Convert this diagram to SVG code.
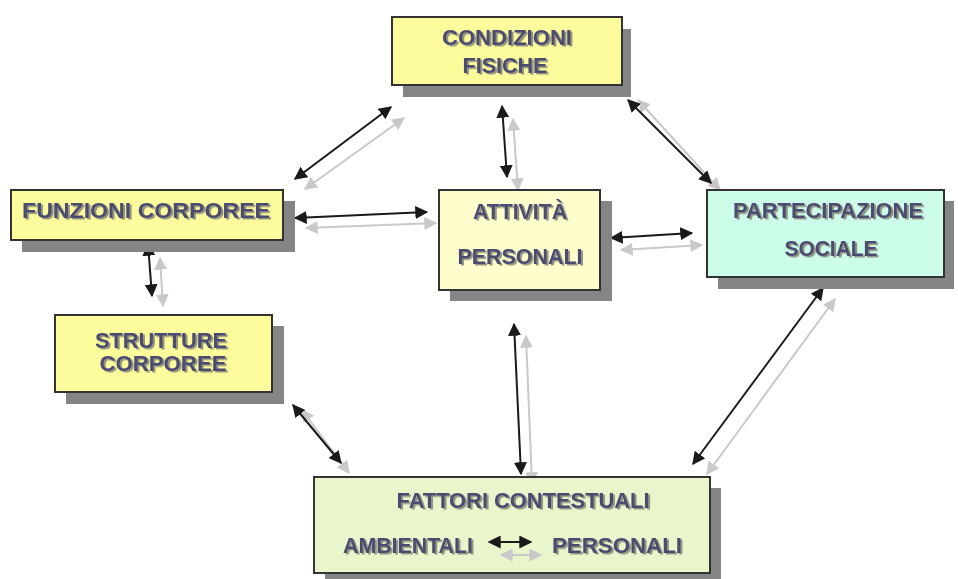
<svg xmlns="http://www.w3.org/2000/svg" width="958" height="579" viewBox="0 0 958 579">
<style>
.sh{fill:#858585}
.bx{stroke:#333;stroke-width:2}
.y{fill:#fdfc9c}
.ly{fill:#fefdcc}
.tl{fill:#ccfde9}
.gr{fill:#e9f6cb}
.t{font-family:"Liberation Sans",Arial,sans-serif;font-weight:bold;font-size:22.5px;fill:#4b4b72;filter:url(#ts)}
.k{stroke:#1a1a1a;stroke-width:2;fill:none;marker-start:url(#ak);marker-end:url(#ak)}
.g{stroke:#c9c9c9;stroke-width:2;fill:none;marker-start:url(#ag);marker-end:url(#ag)}
</style>
<defs>
<filter id="ts" x="-10%" y="-30%" width="120%" height="160%">
<feDropShadow dx="2" dy="1.5" stdDeviation="0.6" flood-color="#8a8a7a" flood-opacity="0.9"/>
</filter>
<marker id="ak" viewBox="0 0 10 10" refX="9" refY="5" markerWidth="6.5" markerHeight="6.5" markerUnits="strokeWidth" orient="auto-start-reverse">
<path d="M0,0 L10,5 L0,10 Z" fill="#1a1a1a"/>
</marker>
<marker id="ag" viewBox="0 0 10 10" refX="9" refY="5" markerWidth="6.5" markerHeight="6.5" markerUnits="strokeWidth" orient="auto-start-reverse">
<path d="M0,0 L10,5 L0,10 Z" fill="#c9c9c9"/>
</marker>
</defs>
<rect width="958" height="579" fill="#fff"/>

<g id="connectors">
<line class="g" x1="305" y1="189" x2="404" y2="118"/>
<line class="k" x1="295" y1="179" x2="391" y2="107"/>
<line class="g" x1="513" y1="119" x2="518" y2="190"/>
<line class="k" x1="502" y1="106" x2="507" y2="177"/>
<line class="g" x1="638" y1="100" x2="720" y2="190"/>
<line class="k" x1="628" y1="100" x2="711" y2="183"/>
<line class="g" x1="306" y1="228" x2="436" y2="223"/>
<line class="k" x1="295" y1="218" x2="427" y2="212"/>
<line class="g" x1="160" y1="258" x2="163" y2="306"/>
<line class="k" x1="148" y1="244" x2="152" y2="296"/>
<line class="g" x1="621" y1="250" x2="702" y2="245"/>
<line class="k" x1="611" y1="238" x2="692" y2="233"/>
<line class="g" x1="302" y1="410" x2="349" y2="473"/>
<line class="k" x1="293" y1="405" x2="341" y2="463"/>
<line class="g" x1="526" y1="336" x2="532" y2="484"/>
<line class="k" x1="514" y1="324" x2="521" y2="474"/>
<line class="g" x1="835" y1="299" x2="707" y2="474"/>
<line class="k" x1="823" y1="288" x2="693" y2="464"/>
</g>

<g id="condizioni">
<rect class="sh" x="403" y="29" width="228" height="68"/>
<rect class="bx y" x="392" y="17" width="230" height="68"/>
<text class="t" x="507" y="45" text-anchor="middle" textLength="130" lengthAdjust="spacingAndGlyphs">CONDIZIONI</text>
<text class="t" x="505" y="73" text-anchor="middle" textLength="85" lengthAdjust="spacingAndGlyphs">FISICHE</text>
</g>

<g id="funzioni">
<rect class="sh" x="22" y="201" width="273" height="51"/>
<rect class="bx y" x="11" y="190" width="272" height="50"/>
<text class="t" x="22" y="218" textLength="248" lengthAdjust="spacingAndGlyphs">FUNZIONI CORPOREE</text>
</g>

<g id="attivita">
<rect class="sh" x="450" y="201" width="162" height="100"/>
<rect class="bx ly" x="439" y="190" width="161" height="100"/>
<text class="t" x="520" y="219" text-anchor="middle" textLength="94" lengthAdjust="spacingAndGlyphs">ATTIVITÀ</text>
<text class="t" x="520" y="264" text-anchor="middle" textLength="125" lengthAdjust="spacingAndGlyphs">PERSONALI</text>
</g>

<g id="partecipazione">
<rect class="sh" x="718" y="201" width="236" height="88"/>
<rect class="bx tl" x="707" y="190" width="237" height="87"/>
<text class="t" x="828" y="218" text-anchor="middle" textLength="190" lengthAdjust="spacingAndGlyphs">PARTECIPAZIONE</text>
<text class="t" x="831" y="256" text-anchor="middle" textLength="93" lengthAdjust="spacingAndGlyphs">SOCIALE</text>
</g>

<g id="strutture">
<rect class="sh" x="66" y="326" width="218" height="78"/>
<rect class="bx y" x="55" y="315" width="217" height="77"/>
<text class="t" x="161" y="348" text-anchor="middle" textLength="132" lengthAdjust="spacingAndGlyphs">STRUTTURE</text>
<text class="t" x="163" y="371" text-anchor="middle" textLength="127" lengthAdjust="spacingAndGlyphs">CORPOREE</text>
</g>

<g id="fattori">
<rect class="sh" x="325" y="488" width="396" height="96"/>
<rect class="bx gr" x="314" y="477" width="396" height="96"/>
<text class="t" x="523" y="508" text-anchor="middle" textLength="253" lengthAdjust="spacingAndGlyphs">FATTORI CONTESTUALI</text>
<text class="t" x="343" y="553" textLength="130" lengthAdjust="spacingAndGlyphs">AMBIENTALI</text>
<text class="t" x="552" y="553" textLength="130" lengthAdjust="spacingAndGlyphs">PERSONALI</text>
<line class="g" x1="501" y1="555" x2="541" y2="555"/>
<line class="k" x1="489" y1="542" x2="531" y2="542"/>
</g>
</svg>
